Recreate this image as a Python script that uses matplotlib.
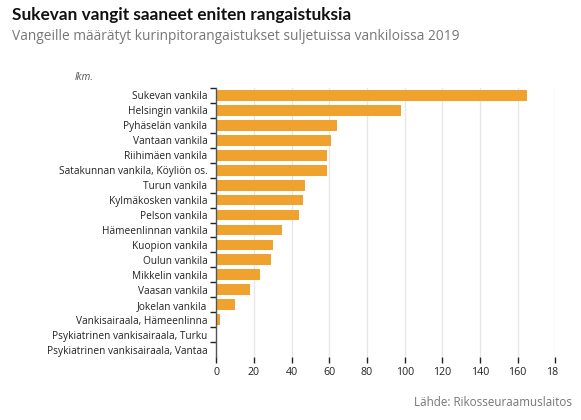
import matplotlib
matplotlib.use("Agg")
import matplotlib.pyplot as plt
from matplotlib.transforms import Bbox

categories = [
    "Sukevan vankila", "Helsingin vankila", "Pyhäselän vankila", "Vantaan vankila",
    "Riihimäen vankila", "Satakunnan vankila, Köyliön os.", "Turun vankila",
    "Kylmäkosken vankila", "Pelson vankila", "Hämeenlinnan vankila",
    "Kuopion vankila", "Oulun vankila", "Mikkelin vankila", "Vaasan vankila",
    "Jokelan vankila", "Vankisairaala, Hämeenlinna",
    "Psykiatrinen vankisairaala, Turku", "Psykiatrinen vankisairaala, Vantaa",
]
values = [165, 98, 64, 61, 59, 59, 47, 46, 44, 35, 30, 29, 23, 18, 10, 2, 0, 0]
x_ticks = [0, 20, 40, 60, 80, 100, 120, 140, 160, 180]

FONT = "Open Sans"
W, H = 581, 420
fig = plt.figure(figsize=(W / 100, H / 100), dpi=100)
ax = fig.add_axes([216.3 / W, 1 - 357 / H, (555.3 - 216.3) / W, (357 - 88) / H])

ypos = list(range(len(categories)))
ax.barh(ypos, values, height=0.72, color="#F0A22E", zorder=3)
ax.set_ylim(len(categories) - 0.5, -0.5)
ax.set_xlim(0, 180)

# y axis: ticks at band boundaries, labels at band centres
ax.set_yticks([i - 0.5 for i in ypos])
ax.set_yticklabels([])
ax.set_yticks(ypos, minor=True)
ax.set_yticklabels(categories, minor=True, fontsize=7.3, family=FONT, color="#222222")
ax.tick_params(axis="y", which="major", length=4, width=1, color="#222222", direction="out")
ax.tick_params(axis="y", which="minor", length=0, pad=6.5)

ax.set_xticks(x_ticks)
ax.set_xticklabels([str(t) for t in x_ticks], fontsize=7.7, family=FONT, color="#222222")
ax.tick_params(axis="x", length=4, width=1, color="#222222", pad=3)
ax.grid(axis="x", color="#e6e6e6", linewidth=0.9, zorder=0)

for s in ["top", "right", "bottom"]:
    ax.spines[s].set_visible(False)
ax.spines["left"].set_color("#555555")
ax.spines["left"].set_linewidth(1)
ax.spines["left"].set_zorder(4)

# clip last tick label like the reference
clip = Bbox.from_extents(0, 0, 558, H)
for lab in ax.get_xticklabels():
    lab.set_clip_box(clip)
    lab.set_clip_on(True)

fig.text(12 / W, 1 - 15 / H, "Sukevan vangit saaneet eniten rangaistuksia",
         fontsize=12.4, fontweight="bold", family="Lato", color="#111111",
         ha="left", va="center")
fig.text(12 / W, 1 - 37 / H, "Vangeille määrätyt kurinpitorangaistukset suljetuissa vankiloissa 2019",
         fontsize=9.9, family=FONT, color="#777777", ha="left", va="center")
fig.text(75 / W, 1 - 78 / H, "lkm.", fontsize=7.3, family=FONT, style="italic",
         color="#555555", ha="left", va="center")
fig.text(572 / W, 1 - 403 / H, "Lähde: Rikosseuraamuslaitos", fontsize=8.4,
         family=FONT, color="#777777", ha="right", va="center")

fig.savefig("out.png", dpi=100)
